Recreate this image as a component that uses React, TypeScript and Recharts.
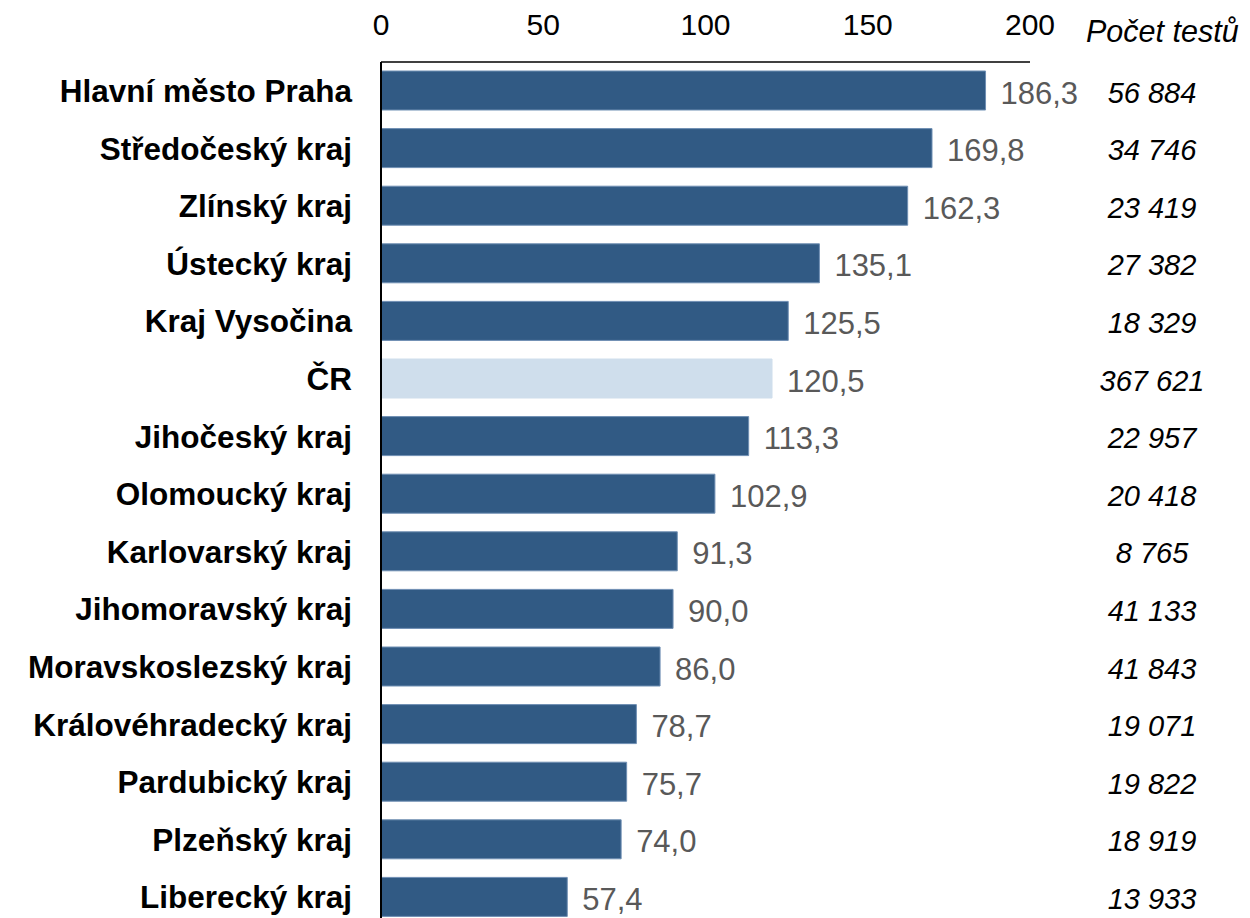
import { BarChart, Bar, XAxis, YAxis, Cell, LabelList } from "recharts";

const regions = [
  "Hlavní město Praha",
  "Středočeský kraj",
  "Zlínský kraj",
  "Ústecký kraj",
  "Kraj Vysočina",
  "ČR",
  "Jihočeský kraj",
  "Olomoucký kraj",
  "Karlovarský kraj",
  "Jihomoravský kraj",
  "Moravskoslezský kraj",
  "Královéhradecký kraj",
  "Pardubický kraj",
  "Plzeňský kraj",
  "Liberecký kraj",
];
const rates = [186.3, 169.8, 162.3, 135.1, 125.5, 120.5, 113.3, 102.9, 91.3, 90.0, 86.0, 78.7, 75.7, 74.0, 57.4];
const testCounts = [56884, 34746, 23419, 27382, 18329, 367621, 22957, 20418, 8765, 41133, 41843, 19071, 19822, 18919, 13933];
const xTicks = [0, 50, 100, 150, 200];

const TOTAL = "ČR";
const FONT = "'Liberation Sans', Arial, sans-serif";

const data = regions.map((name, i) => ({ name, value: rates[i], count: testCounts[i] }));

const fmtRate = (v: number) => v.toFixed(1).replace(".", ",");
const fmtCount = (v: number) => String(v).replace(/\B(?=(\d{3})+(?!\d))/g, " ");

// value right after the end of each bar
function RateLabel(props: any) {
  const { viewBox, value } = props;
  if (!viewBox) return null;
  const cy = viewBox.y + viewBox.height / 2;
  return (
    <text x={viewBox.x + viewBox.width + 15} y={cy + 13} fontFamily={FONT} fontSize={31} fill="#595959">
      {fmtRate(Number(value))}
    </text>
  );
}

// column of test counts on the right, one per bar row
function CountLabel(props: any) {
  const { viewBox, value } = props;
  if (!viewBox) return null;
  const cy = viewBox.y + viewBox.height / 2;
  return (
    <text x={1152} y={cy + 12} textAnchor="middle" fontFamily={FONT} fontStyle="italic" fontSize={29} fill="#000">
      {fmtCount(value)}
    </text>
  );
}

export default function App() {
  return (
    <div style={{ position: "absolute", left: 0, top: 0, width: 1250, height: 918, overflow: "hidden", background: "#fff" }}>
      <div
        style={{
          position: "absolute",
          left: 1086,
          top: 14,
          fontFamily: FONT,
          fontStyle: "italic",
          fontSize: 30.5,
          lineHeight: "34px",
          whiteSpace: "nowrap",
        }}
      >
        Počet testů
      </div>
      <BarChart
        width={1250}
        height={926}
        data={data}
        layout="vertical"
        margin={{ top: 0, right: 220, bottom: 0, left: 0 }}
        barSize={39}
      >
        <XAxis
          type="number"
          orientation="top"
          domain={[0, 200]}
          ticks={xTicks}
          height={62}
          tickLine={false}
          tickSize={0}
          tickMargin={27}
          axisLine={{ stroke: "#000", strokeWidth: 1.5 }}
          tick={{ fill: "#000", fontSize: 30, fontFamily: FONT }}
        />
        <YAxis
          type="category"
          dataKey="name"
          width={381}
          tickLine={false}
          tickSize={0}
          tickMargin={29}
          interval={0}
          axisLine={{ stroke: "#000", strokeWidth: 2 }}
          tick={{ fill: "#000", fontSize: 31.5, fontWeight: 700, fontFamily: FONT }}
        />
        <Bar dataKey="value" isAnimationActive={false} strokeWidth={1}>
          {data.map((d) => (
            <Cell key={d.name} fill={d.name === TOTAL ? "#cfdeec" : "#315a84"} stroke={d.name === TOTAL ? "#cfdeec" : "#6f8fb3"} />
          ))}
          <LabelList dataKey="value" content={<RateLabel />} />
          <LabelList dataKey="count" content={<CountLabel />} />
        </Bar>
      </BarChart>
    </div>
  );
}
